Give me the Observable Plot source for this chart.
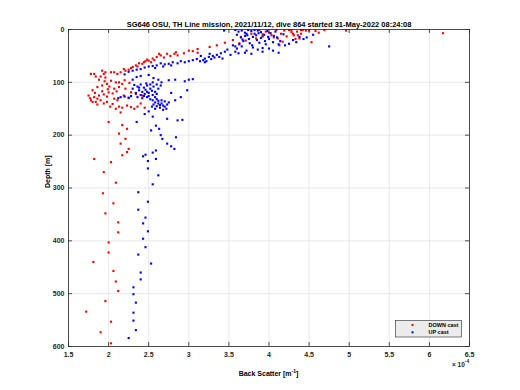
<!DOCTYPE html>
<html>
<head>
<meta charset="utf-8">
<script src="https://cdn.jsdelivr.net/npm/d3@7"></script>
<script src="https://cdn.jsdelivr.net/npm/@observablehq/plot@0.6"></script>
<style>
  html, body { margin: 0; padding: 0; background: #ffffff; }
  #chart { width: 520px; height: 390px; }
</style>
</head>
<body>
<div id="chart"></div>
<script>
// Chart text
const titleText = "SG646 OSU, TH Line mission, 2021/11/12, dive 864 started 31-May-2022 08:24:08";
const xLabelText = "Back Scatter [m";
const yLabelText = "Depth [m]";
const seriesNames = ["DOWN cast", "UP cast"];
const seriesColors = ["#ff0000", "#0000ff"];

// Tick values (x in units of 1e-4 m^-1, y depth in m)
const xTicks = [1.5, 2, 2.5, 3, 3.5, 4, 4.5, 5, 5.5, 6, 6.5];
const yTicks = [0, 100, 200, 300, 400, 500, 600];

// DOWN cast: [backscatter x1e4, depth m]
const downCast = [
  [4.09,1],[4.19,2],[4.28,1],[4.40,1],[4.46,2],[4.69,1],[4.96,2],[6.17,7],[4.31,11],[4.53,24],
  [4.03,11],[4.06,15],[4.28,5],[4.40,8],[4.50,2],[4.38,17],[4.13,30],[3.88,1],[3.96,4],[4.11,17],
  [4.17,23],[4.25,1],[4.30,8],[4.36,11],[4.42,1],[3.65,14],[3.63,26],[3.78,8],[3.26,33],[3.11,37],
  [3.00,40],[3.05,41],[3.11,44],[3.84,17],[3.71,21],[4.22,13],[4.35,4],[3.92,9],[4.00,6],[4.15,8],
  [3.55,20],[3.45,25],[3.35,30],[4.58,3],[4.62,6],[4.33,18],
  [2.84,43],[2.82,46],[2.86,49],[2.73,46],[2.65,49],[2.63,46],[2.55,55],[2.50,59],[2.53,62],[2.46,60],
  [2.42,65],[2.38,64],[2.34,68],[2.30,71],[2.25,76],[2.21,78],[2.15,81],[2.11,84],[2.07,81],[2.03,81],
  [1.96,81],[1.92,78],[1.94,84],[1.82,84],[1.78,84],[2.94,45],[2.77,50],[2.69,53],[2.60,52],[2.48,57],
  [2.44,62],[2.36,70],[2.28,73],[2.19,75],[2.57,58],
  [1.84,89],[1.90,89],[1.96,91],[2.03,97],[2.09,100],[2.13,100],[2.17,103],[1.98,103],[1.92,106],[1.86,109],
  [1.80,115],[1.75,125],[1.82,128],[1.78,134],[1.80,137],[1.84,137],[1.86,131],[1.88,125],[1.92,117],[1.94,123],
  [1.98,127],[2.00,119],[2.05,121],[2.07,131],[2.11,134],[2.13,146],[2.17,148],[2.23,144],[2.28,147],[2.32,150],
  [2.36,146],[1.90,134],[1.98,137],[2.05,141],[2.15,157],[2.07,112],[2.13,109],[2.21,112],[2.28,119],[2.34,122],
  [2.42,125],[1.88,95],[1.95,98],[2.01,108],[1.83,120],[1.77,130],[1.86,142],[1.94,140],[2.10,117],[2.19,125],
  [2.25,130],[2.02,146],[2.09,150],[2.40,140],[2.45,148],[2.20,96],[2.26,101],[1.99,113],
  [2.00,175],[2.17,181],[2.23,188],[2.13,197],[2.21,207],[2.15,216],[2.25,226],[2.23,232],[2.17,238],[1.82,245],
  [2.03,251],[1.94,270],[2.09,290],[1.93,310],[2.06,329],[1.96,348],[2.12,365],[2.12,384],[2.00,403],[2.00,422],
  [1.81,440],[2.06,457],[2.09,477],[2.12,495],[1.96,514],[1.72,534],[2.03,553],[1.90,573],[2.03,594]
];

// UP cast: [backscatter x1e4, depth m]
const upCast = [
  [3.44,2],[3.58,1],[3.62,4],[3.66,2],[3.70,6],[3.74,1],[3.78,3],[3.82,8],[3.86,2],[3.90,5],
  [3.94,10],[3.98,3],[4.02,7],[4.06,12],[3.60,10],[3.65,15],[3.70,12],[3.75,18],[3.80,14],[3.85,20],
  [3.90,16],[3.95,22],[4.00,18],[4.05,24],[3.68,22],[3.72,8],[3.76,26],[3.84,11],[3.88,25],[3.92,13],
  [3.96,28],[4.10,15],[4.14,22],[4.18,9],[4.25,27],[4.30,20],[4.34,24],[4.38,14],[4.43,18],[4.20,30],
  [3.63,28],[3.79,30],[4.08,4],[3.82,1],[3.73,11],[3.87,7],[3.99,14],[3.67,19],[4.47,15],[4.55,10],
  [4.75,32],[3.78,46],[3.92,35],[3.58,32],[4.12,28],
  [3.55,30],[3.60,36],[3.66,32],[3.72,40],[3.80,34],[3.86,38],[3.92,42],[4.00,36],[4.05,40],[4.12,44],
  [3.58,42],[3.62,45],[3.70,44],[3.48,38],[3.52,48],[3.45,42],[3.40,45],[3.35,48],[3.30,50],[3.25,52],
  [3.20,55],[3.15,50],[3.18,58],[3.22,60],[3.28,56],[3.32,53],[3.38,52],[3.42,55],[3.26,46],[3.14,60],
  [3.20,62],[3.10,56],[3.05,58],[3.00,60],[2.95,62],[2.90,60],[2.86,64],[2.80,62],[2.75,65],[2.70,66],
  [2.65,64],[2.60,68],[2.55,69],[2.50,70],[2.45,72],[2.40,75],[2.35,76],[2.30,78],[2.25,80],[2.20,85],
  [2.78,68],[2.68,70],[2.58,73],[2.50,86],[2.56,92],[2.62,95],[2.66,100],[2.75,96],[2.83,95],[2.95,98],
  [3.00,95],[3.05,94],[2.40,88],[2.30,95],[2.35,90],
  [2.32,105],[2.36,108],[2.40,104],[2.44,110],[2.48,106],[2.52,112],[2.56,108],[2.60,104],[2.38,115],[2.42,118],
  [2.46,114],[2.50,120],[2.54,116],[2.58,118],[2.34,120],[2.40,124],[2.45,122],[2.50,126],[2.55,124],[2.60,122],
  [2.36,128],[2.42,130],[2.48,128],[2.52,132],[2.30,112],[2.47,102],[2.55,100],[2.62,112],[2.65,106],[2.44,126],
  [2.38,110],[2.52,104],[2.58,128],[2.48,118],
  [2.15,128],[2.20,127],[2.25,129],[2.28,126],[2.12,130],
  [2.55,134],[2.58,138],[2.62,135],[2.66,140],[2.70,136],[2.73,142],[2.56,142],[2.60,145],[2.64,148],[2.68,144],
  [2.72,150],[2.58,150],[2.62,140],[2.66,134],[2.70,146],[2.75,138],[2.54,146],[2.68,152],[2.60,132],[2.64,143],
  [2.98,115],[2.83,134],[2.90,128],[2.78,120],[2.59,182],[2.63,188],[2.65,200],[2.67,207],[2.73,216],[2.78,221],
  [2.82,226],[2.84,204],[2.86,172],[2.92,171],[2.73,169],[2.53,191],[2.45,160],[2.55,165],[2.35,175],[2.50,155],
  [2.43,240],[2.46,237],[2.55,233],[2.59,229],[2.59,245],[2.49,249],[2.49,263],[2.62,276],[2.55,293],[2.37,308],
  [2.49,326],[2.37,341],[2.46,356],[2.43,367],[2.49,382],[2.43,396],[2.46,412],[2.37,426],[2.53,443],[2.40,460],
  [2.40,473],[2.31,488],[2.31,501],[2.34,517],[2.31,536],[2.31,551],[2.34,569],[2.25,584]
];

const font = "'Liberation Sans', Arial, Helvetica, sans-serif";
const ink = "#262626";

const chart = Plot.plot({
  width: 520,
  height: 390,
  marginLeft: 68,
  marginRight: 51,
  marginTop: 29,
  marginBottom: 44,
  style: {fontFamily: font, fontSize: "7px", fontWeight: "bold", background: "#ffffff", color: ink},
  x: {domain: [1.5, 6.5]},
  y: {domain: [0, 600], reverse: true},
  marks: [
    Plot.gridX(xTicks, {stroke: "#dfdfdf", strokeOpacity: 1, strokeWidth: 0.7}),
    Plot.gridY(yTicks, {stroke: "#dfdfdf", strokeOpacity: 1, strokeWidth: 0.7}),
    Plot.dot(downCast, {x: d => d[0], y: d => d[1], symbol: "square", r: 1.2, fill: seriesColors[0], stroke: "none"}),
    Plot.dot(upCast, {x: d => d[0], y: d => d[1], symbol: "square", r: 1.2, fill: seriesColors[1], stroke: "none"}),
    Plot.frame({stroke: ink, strokeWidth: 0.8}),
    // inward ticks (bottom, top, left, right)
    Plot.ruleX(xTicks, {x: d => d, y1: 600, y2: 592.5, stroke: ink, strokeWidth: 0.8}),
    Plot.ruleX(xTicks, {x: d => d, y1: 0, y2: 7.5, stroke: ink, strokeWidth: 0.8}),
    Plot.ruleY(yTicks, {y: d => d, x1: 1.5, x2: 1.55, stroke: ink, strokeWidth: 0.8}),
    Plot.ruleY(yTicks, {y: d => d, x1: 6.5, x2: 6.45, stroke: ink, strokeWidth: 0.8}),
    Plot.axisX(xTicks, {tickSize: 0, tickPadding: 6, label: null, tickFormat: d => String(d), fill: ink, fontSize: 7}),
    Plot.axisY(yTicks, {tickSize: 0, tickPadding: 4, label: null, tickFormat: d => String(d), fill: ink, fontSize: 7}),
    Plot.text([titleText], {frameAnchor: "top", lineAnchor: "bottom", dy: -3, fontSize: 7.5, fontWeight: "bold", fill: "#000000"}),
    Plot.text([yLabelText], {frameAnchor: "left", rotate: -90, dx: -21, fontSize: 7, fontWeight: "bold", fill: "#000000"})
  ]
});

document.getElementById("chart").appendChild(chart);

// Extra annotations positioned from the chart's scales
const sx = chart.scale("x"), sy = chart.scale("y");
const svg = d3.select(chart);
const xMid = (sx.apply(1.5) + sx.apply(6.5)) / 2;
const yBot = sy.apply(600);
const xRight = sx.apply(6.5);

// x-axis label with superscript
const xl = svg.append("text")
  .attr("x", xMid).attr("y", yBot + 30)
  .attr("text-anchor", "middle")
  .attr("font-family", font).attr("font-size", 7).attr("font-weight", "bold").attr("fill", "#000");
xl.append("tspan").text(xLabelText);
xl.append("tspan").attr("dy", -3).attr("font-size", 5).text("-1");
xl.append("tspan").attr("dy", 3).text("]");

// exponent note
const ex = svg.append("text")
  .attr("x", xRight - 17).attr("y", yBot + 21)
  .attr("text-anchor", "start")
  .attr("font-family", font).attr("font-size", 6.5).attr("font-weight", "bold").attr("fill", ink);
ex.append("tspan").text("\u00d7 10");
ex.append("tspan").attr("dy", -4).attr("font-size", 5).text("-4");

// legend
const lw = 66, lh = 16.5;
const lx = xRight - 7.5 - lw, ly = yBot - 9 - lh;
const lg = svg.append("g");
lg.append("rect").attr("x", lx).attr("y", ly).attr("width", lw).attr("height", lh)
  .attr("fill", "#ececec").attr("stroke", ink).attr("stroke-width", 0.6);
seriesNames.forEach((name, i) => {
  const cy = ly + 4.5 + i * 7.3;
  lg.append("rect").attr("x", lx + 16).attr("y", cy - 1).attr("width", 2).attr("height", 2).attr("fill", seriesColors[i]);
  lg.append("text").attr("x", lx + 33).attr("y", cy).attr("dy", "0.35em")
    .attr("text-anchor", "start")
    .attr("font-family", font).attr("font-size", 5.5).attr("font-weight", "bold").attr("fill", "#000").text(name);
});
</script>
</body>
</html>
